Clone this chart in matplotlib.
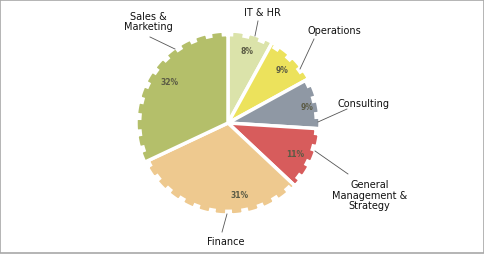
import numpy as np
import matplotlib
matplotlib.use("Agg")
import matplotlib.pyplot as plt
from matplotlib.patches import Rectangle, Polygon

# ---- data ----
categories = ["IT & HR", "Operations", "Consulting",
              "General\nManagement &\nStrategy", "Finance", "Sales &\nMarketing"]
values = [8, 9, 9, 11, 31, 32]
pct_labels = ["8%", "9%", "9%", "11%", "31%", "32%"]

# ---- styles / layout ----
colors = ["#dbe3aa", "#ece25c", "#8f98a4", "#d75c5c", "#eec98f", "#b4bf6a"]
label_pos = [(0.37, 1.21), (1.16, 1.01), (1.47, 0.22),
             (1.54, -0.78), (-0.02, -1.28), (-0.87, 1.11)]
line_out = [(0.326, 1.109), (0.935, 0.913), (1.293, 0.152),
            (1.304, -0.554), (-0.065, -1.185), (-0.848, 0.935)]
line_in = [(0.293, 0.946), (0.783, 0.587), (0.978, 0.011),
           (0.946, -0.304), (-0.011, -0.989), (-0.576, 0.804)]
pct_shift = [0, 0, -1, -1, 18, -3]   # degrees
pct_r = [0.81, 0.83, 0.88, 0.80, 0.79, 0.78]

fig = plt.figure(figsize=(4.85, 2.55), dpi=100)
fig.patch.set_facecolor("white")
ax = fig.add_axes([0, 0, 1, 1])

wedges, _ = ax.pie(values, colors=colors, startangle=90, counterclock=False,
                   radius=1.0,
                   wedgeprops=dict(edgecolor="white", linewidth=2.5))


def notched_radius(theta_deg, step=10.5, depth=0.04, width=0.22):
    # stamp-like outline: flat runs with small notches
    phase = ((90.0 - theta_deg) % step) / step
    notch = (phase < width).astype(float)
    return 1.0 - depth * notch


for w in wedges:
    t1, t2 = w.theta1, w.theta2
    th = np.linspace(t1, t2, 1200)
    r = notched_radius(th)
    xs = np.concatenate([[0], r * np.cos(np.deg2rad(th))])
    ys = np.concatenate([[0], r * np.sin(np.deg2rad(th))])
    poly = Polygon(np.column_stack([xs, ys]), closed=True,
                   facecolor=w.get_facecolor(), edgecolor="white",
                   linewidth=2.5, joinstyle="miter")
    w.set_visible(False)
    ax.add_patch(poly)

for w, t, s, r in zip(wedges, pct_labels, pct_shift, pct_r):
    mid = np.deg2rad((w.theta1 + w.theta2) / 2 + s)
    ax.text(r * np.cos(mid), r * np.sin(mid), t, ha="center", va="center",
            fontsize=5.5, fontweight="bold", color="#5b5b45")

for lab, (tx, ty), (ox, oy), (ix, iy) in zip(categories, label_pos, line_out, line_in):
    ax.text(tx, ty, lab, ha="center", va="center", fontsize=7,
            color="#111111", linespacing=1.05)
    ax.plot([ox, ix], [oy, iy], color="#555555", lw=0.6)

ax.set_aspect("equal")
ax.set_xlim(-228 / 92, 257 / 92)
ax.set_ylim(-131 / 92, 124 / 92)
ax.axis("off")

fig.add_artist(Rectangle((0.001, 0.002), 0.996, 0.994, transform=fig.transFigure,
                         fill=False, edgecolor="#a8a8a8", lw=1.2))

fig.savefig("out.png", dpi=100, facecolor="white")
